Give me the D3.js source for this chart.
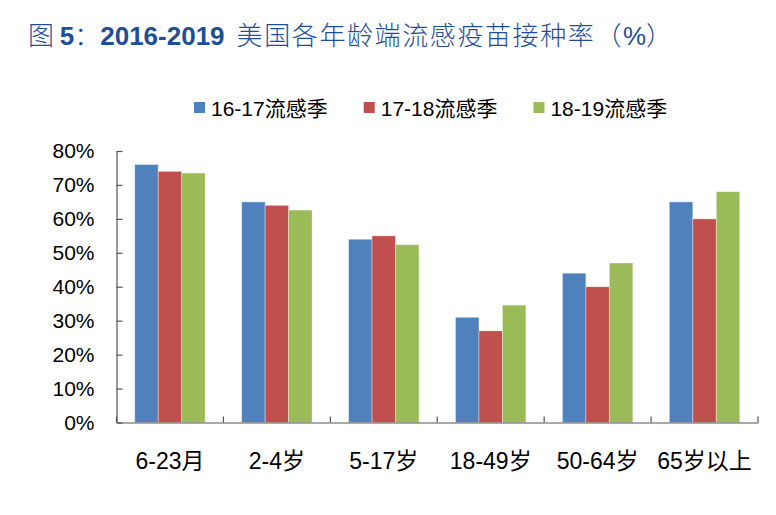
<!DOCTYPE html>
<html><head><meta charset="utf-8">
<script src="https://cdn.jsdelivr.net/npm/d3@7/dist/d3.min.js"></script>
<style>
body{margin:0;background:#fff;}
svg{display:block;}
text{font-family:"Liberation Sans",Arial,"Noto Sans CJK SC",sans-serif;}
</style></head>
<body>
<svg id="chart" width="776" height="515"></svg>
<script>
const categories = ["6-23月","2-4岁","5-17岁","18-49岁","50-64岁","65岁以上"];
const seriesNames = ["16-17流感季","17-18流感季","18-19流感季"];
const s1617 = [76, 65, 54, 31, 44, 65];
const s1718 = [74, 64, 55, 27, 40, 60];
const s1819 = [73.5, 62.6, 52.4, 34.6, 47, 68];
const yTicks = [0,10,20,30,40,50,60,70,80];
const colors = ["#4F81BD","#C0504D","#9BBB59"];
const seriesValues = [s1617, s1718, s1819];

const svg = d3.select("#chart");
const W = 776, H = 515;
const m = {left:116.5, right:W-758, top:151, bottom:H-422.5};

// Title
const title = svg.append("text").attr("x",28).attr("y",45).attr("fill","#1F4E99").attr("font-size",26);
title.append("tspan").attr("font-family","Noto Sans CJK SC").attr("font-weight",300).text("图 ");
title.append("tspan").attr("font-weight","bold").attr("font-family","Liberation Sans").text("5");
title.append("tspan").attr("font-family","Noto Sans CJK SC").attr("font-weight",300).text("：");
title.append("tspan").attr("font-weight","bold").attr("font-family","Liberation Sans").text("2016-2019");
title.append("tspan").attr("font-family","Noto Sans CJK SC").attr("font-weight",300).attr("dx",12).attr("letter-spacing","1.6").text("美国各年龄端流感疫苗接种率（");
title.append("tspan").attr("font-family","Liberation Sans").text("%");
title.append("tspan").attr("font-family","Noto Sans CJK SC").attr("font-weight",300).text("）");

// Scales
const x0 = d3.scaleBand().domain(categories).range([m.left, W-m.right]).paddingInner(0).paddingOuter(0);
const x1 = d3.scaleBand().domain(seriesNames).range([0, x0.bandwidth()]).paddingInner(0).paddingOuter(0.777);
const y = d3.scaleLinear().domain([0,80]).range([H-m.bottom, m.top]);

// Bars
const groups = svg.append("g").selectAll("g").data(categories).join("g")
  .attr("transform", d => `translate(${x0(d)},0)`);
groups.selectAll("rect").data((d,i) => seriesNames.map((s,j) => ({s, v: seriesValues[j][i], c: colors[j]})))
  .join("rect")
  .attr("x", d => x1(d.s))
  .attr("width", x1.bandwidth())
  .attr("y", d => y(d.v))
  .attr("height", d => y(0) - y(d.v))
  .attr("fill", d => d.c)
  .attr("stroke", "rgba(255,255,255,0.45)").attr("stroke-width",0.8);

// Y axis
const yAxis = d3.axisLeft(y).tickValues(yTicks).tickFormat(d => d + "%").tickSizeInner(-6).tickSizeOuter(0).tickPadding(22);
const gy = svg.append("g").attr("transform",`translate(${m.left},0)`).call(yAxis);
gy.select(".domain").attr("stroke","#555").attr("stroke-width",1.2);
gy.selectAll(".tick line").attr("stroke","#555").attr("stroke-width",1.2);
gy.selectAll(".tick text").attr("font-size",21).attr("fill","#000").attr("font-family","Liberation Sans,Arial");

// X axis
const xAxis = d3.axisBottom(x0).tickSize(0).tickPadding(0);
const gx = svg.append("g").attr("transform",`translate(0,${y(0)})`).call(xAxis);
gx.select(".domain").attr("stroke","#555").attr("stroke-width",1.2);
gx.selectAll(".tick text").attr("font-size",23).attr("fill","#000").attr("dy",0).attr("y",46)
  .attr("font-family",'"Liberation Sans",Arial,"Noto Sans CJK SC"');
// Boundary ticks (inward)
const bounds = categories.map(c => x0(c)).concat([x0(categories[categories.length-1]) + x0.bandwidth()]);
gx.selectAll("line.btick").data(bounds).join("line").attr("class","btick")
  .attr("x1", d => d).attr("x2", d => d).attr("y1", 0).attr("y2", -6)
  .attr("stroke","#555").attr("stroke-width",1.2);

// Legend
const legend = svg.append("g");
let lx = 194;
seriesNames.forEach((s,i) => {
  legend.append("rect").attr("x",lx).attr("y",102).attr("width",11).attr("height",11).attr("fill",colors[i]);
  const t = legend.append("text").attr("x",lx+17).attr("y",116).attr("font-size",21).attr("fill","#000").text(s);
  lx += 17 + t.node().getComputedTextLength() + 36;
});
</script>
</body></html>
